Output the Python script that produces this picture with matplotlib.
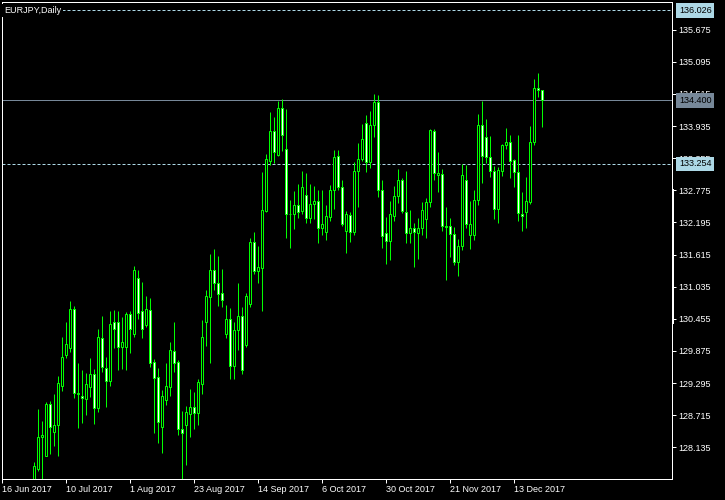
import matplotlib
matplotlib.use('Agg')
import matplotlib.pyplot as plt
from matplotlib.patches import Rectangle
from matplotlib.lines import Line2D
from matplotlib.transforms import blended_transform_factory, offset_copy

plt.rcParams['font.family'] = ['Liberation Sans', 'DejaVu Sans']

# ---------------- data ----------------
chart_title = 'EURJPY,Daily'
date_labels = ['16 Jun 2017', '10 Jul 2017', '1 Aug 2017', '23 Aug 2017', '14 Sep 2017',
               '6 Oct 2017', '30 Oct 2017', '21 Nov 2017', '13 Dec 2017']
date_label_step = 16          # bars between date labels
first_bar = 8                 # first bar visible in the price window (16 Jun 2017 = bar 0)

opens = [127.36, 127.75, 128.32, 127.98, 128.92, 128.42, 128.53, 129.25, 129.81, 129.93,
         130.63, 129.09, 129.06, 129.00, 129.22, 129.45, 128.85, 130.10, 129.56, 129.34,
         130.39, 130.39, 129.95, 129.94, 130.54, 130.18, 131.19, 130.60, 130.34, 130.61,
         129.67, 129.40, 128.51, 128.99, 129.23, 129.87, 129.68, 128.46, 128.53, 128.73,
         128.86, 128.75, 129.27, 130.39, 130.85, 131.33, 131.10, 130.93, 130.19, 130.45,
         129.61, 130.25, 130.50, 129.98, 130.72, 131.84, 131.31, 131.38, 132.41, 133.31,
         133.84, 133.42, 134.27, 133.53, 132.35, 132.34, 132.51, 132.40, 132.70, 132.28,
         132.52, 132.58, 132.10, 132.03, 132.30, 132.78, 133.39, 132.83, 132.05, 132.33,
         132.02, 133.12, 133.35, 133.99, 133.28, 133.95, 134.37, 132.79, 132.00, 131.86,
         132.32, 132.67, 132.97, 132.38, 132.00, 132.09, 132.01, 132.09, 132.25, 132.56,
         133.84, 133.05, 133.07, 132.14, 132.13, 131.98, 131.49, 131.77, 132.97, 131.96,
         131.96, 132.60, 133.95, 133.73, 133.37, 133.12, 132.43, 133.12, 133.59, 133.64,
         133.32, 133.10, 132.34, 132.38, 132.56, 133.64, 134.62, 134.59]
highs = [127.87, 128.83, 128.61, 128.95, 128.97, 129.10, 129.42, 130.13, 130.40, 130.78,
         130.69, 129.66, 129.53, 129.48, 129.75, 129.55, 130.27, 130.51, 129.77, 130.60,
         130.61, 130.60, 130.49, 130.58, 130.60, 131.41, 131.34, 131.12, 130.87, 130.83,
         129.73, 129.57, 129.17, 129.66, 130.04, 130.40, 129.71, 128.79, 128.89, 129.18,
         129.13, 129.36, 130.43, 130.98, 131.63, 131.72, 131.59, 131.36, 130.71, 130.65,
         130.39, 131.10, 130.66, 130.92, 131.91, 132.02, 131.77, 133.11, 133.43, 134.19,
         134.10, 134.39, 134.42, 134.24, 132.60, 132.76, 132.89, 133.12, 133.08, 132.89,
         132.85, 132.78, 132.78, 132.51, 132.87, 133.50, 133.50, 132.96, 132.40, 132.38,
         133.29, 133.63, 133.97, 134.14, 134.20, 134.52, 134.50, 132.96, 132.29, 132.58,
         132.85, 133.16, 133.00, 133.12, 132.42, 132.18, 132.28, 132.56, 132.64, 133.88,
         133.88, 133.47, 133.16, 132.48, 132.28, 132.11, 131.90, 133.25, 133.23, 132.58,
         132.79, 134.15, 134.38, 134.06, 133.75, 133.21, 133.19, 133.61, 133.90, 133.77,
         133.35, 133.77, 132.74, 133.01, 133.93, 134.79, 134.89, 134.59]
lows = [127.18, 127.71, 127.36, 127.97, 128.02, 128.15, 127.98, 129.16, 129.74, 129.86,
        129.03, 128.49, 128.58, 128.72, 129.05, 128.56, 128.78, 129.50, 128.87, 129.25,
        129.93, 129.54, 129.55, 129.54, 129.83, 130.13, 130.46, 130.10, 130.30, 129.59,
        128.39, 128.22, 128.04, 128.90, 129.07, 129.50, 128.36, 127.50, 127.82, 128.33,
        128.47, 128.53, 129.10, 129.97, 129.65, 130.98, 130.69, 130.66, 130.10, 129.37,
        129.36, 129.90, 129.46, 129.95, 130.66, 131.26, 131.11, 130.60, 132.38, 133.23,
        133.26, 133.40, 133.48, 131.92, 131.74, 132.08, 132.28, 132.34, 132.19, 132.19,
        132.25, 131.83, 131.97, 131.87, 132.23, 132.44, 132.79, 132.14, 131.65, 131.85,
        131.96, 132.48, 133.30, 133.10, 133.17, 133.73, 132.65, 131.74, 131.45, 131.51,
        132.23, 132.54, 132.36, 131.82, 131.83, 131.40, 131.53, 131.96, 131.92, 132.48,
        132.97, 132.75, 132.05, 131.16, 131.58, 131.43, 131.23, 131.70, 132.09, 131.72,
        131.87, 132.51, 132.90, 133.26, 133.01, 132.26, 132.19, 133.04, 133.52, 133.00,
        132.84, 132.23, 132.05, 132.10, 132.52, 133.59, 134.46, 133.91]
closes = [127.80, 128.32, 128.36, 128.91, 128.51, 128.53, 129.29, 129.76, 130.00, 130.63,
          129.11, 129.11, 129.02, 129.27, 129.45, 128.84, 130.12, 129.59, 129.34, 130.37,
          130.28, 129.95, 130.03, 130.54, 130.27, 131.33, 130.56, 130.27, 130.63, 129.66,
          129.39, 128.60, 129.07, 129.24, 129.89, 129.66, 128.46, 128.40, 128.77, 128.86,
          128.75, 129.31, 130.12, 130.86, 131.33, 131.10, 130.90, 130.79, 130.45, 129.61,
          130.25, 130.50, 129.54, 130.86, 131.84, 131.31, 131.40, 132.42, 133.35, 133.84,
          133.46, 134.27, 133.78, 132.35, 132.34, 132.51, 132.39, 132.83, 132.28, 132.52,
          132.58, 132.10, 132.16, 132.31, 132.78, 133.37, 132.83, 132.17, 132.34, 132.02,
          133.12, 133.35, 133.70, 133.28, 133.95, 134.37, 132.79, 131.95, 131.86, 132.34,
          132.67, 132.97, 132.40, 132.00, 132.09, 132.02, 132.09, 132.42, 132.56, 133.86,
          133.08, 133.08, 132.14, 132.12, 131.98, 131.49, 131.77, 133.05, 132.16, 132.16,
          132.60, 133.95, 133.39, 133.37, 133.12, 132.43, 133.14, 133.59, 133.64, 133.31,
          133.10, 132.36, 132.31, 132.58, 133.64, 134.62, 134.59, 134.40]

price_ticks = [135.675, 135.095, 134.515, 133.935, 133.355, 132.775, 132.195,
               131.615, 131.035, 130.455, 129.875, 129.295, 128.715, 128.135]
level_top = 136.026
level_bid = 134.400
level_low = 133.254

# ---------------- style ----------------
W, H = 725, 500
PX = 72.0 / 100.0          # one pixel in points
GREEN = '#00ff00'
LBLUE = '#add8e6'
SLATE = '#778899'
FS = 6.5

fig = plt.figure(figsize=(W / 100, H / 100), dpi=100, facecolor='black')
ax = fig.add_axes([2 / W, 21 / H, 670 / W, 477 / H], facecolor='black')

xs = list(range(first_bar, first_bar + len(opens)))
ax.vlines(xs, lows, highs, colors=GREEN, linewidth=PX, zorder=2)
for x, o, c in zip(xs, opens, closes):
    fc = 'black' if c >= o else 'white'
    ax.add_patch(Rectangle((x - 0.25, min(o, c)), 0.5, abs(c - o),
                           facecolor=fc, edgecolor=GREEN, linewidth=PX, zorder=3))

ax.set_xlim(-0.075, -0.075 + 670 / 4)
ax.set_ylim(127.563, 136.176)

# horizontal levels
ax.axhline(level_top, color=LBLUE, linewidth=PX, dashes=(3, 2), zorder=1)
ax.axhline(level_low, color=LBLUE, linewidth=PX, dashes=(3, 2), zorder=1)
ax.axhline(level_bid, color=SLATE, linewidth=PX, zorder=1)

# axes frame
for s in ax.spines.values():
    s.set_color('white')
    s.set_linewidth(PX)

# price axis on the right
ax.yaxis.tick_right()
ax.set_yticks(price_ticks)
ax.set_yticklabels([f'{v:.3f}' for v in price_ticks])
ax.tick_params(axis='y', which='both', direction='out', length=3, width=PX,
               colors='white', labelsize=FS, pad=1.2, left=False)

# date axis
tick_pos = [i * date_label_step for i in range(len(date_labels))]
ax.set_xticks(tick_pos)
ax.set_xticklabels(date_labels)
ax.tick_params(axis='x', which='both', direction='out', length=3, width=PX,
               colors='white', labelsize=FS, pad=1.0)
for lab in ax.get_xticklabels():
    lab.set_horizontalalignment('left')

# level label boxes on price axis
tr = offset_copy(blended_transform_factory(ax.transAxes, ax.transData),
                 fig=fig, x=7, y=0, units='dots')
for val, bg in [(level_top, LBLUE), (level_low, LBLUE), (level_bid, SLATE)]:
    ax.text(1.0, val, f'{val:.3f}', transform=tr, ha='left', va='center',
            fontsize=FS, color='black', zorder=10, clip_on=False,
            bbox=dict(boxstyle='square,pad=0.3', facecolor=bg, edgecolor='none'))

# right edge marker
fig.add_artist(Line2D([672.5 / W, 672.5 / W], [1 - 190 / H, 1 - 323 / H],
                      color='white', linewidth=2 * PX))

# title
fig.text(4 / W, 1 - 10.5 / H, chart_title, color='white', fontsize=FS,
         ha='left', va='center', zorder=10,
         bbox=dict(boxstyle='square,pad=0.25', facecolor='black', edgecolor='none'))

fig.savefig('out.png', dpi=100, facecolor='black')
